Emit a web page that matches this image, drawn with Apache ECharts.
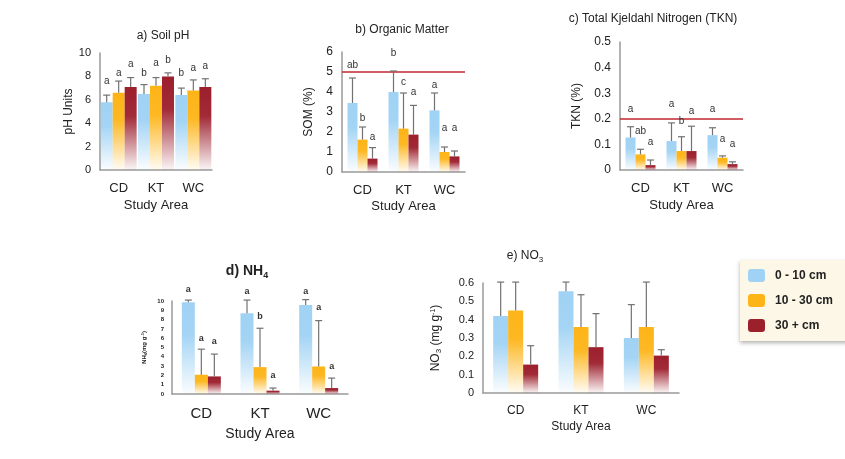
<!DOCTYPE html>
<html>
<head>
<meta charset="utf-8">
<script src="https://cdn.jsdelivr.net/npm/echarts@6/dist/echarts.min.js"></script>
<style>
  html, body { margin: 0; padding: 0; background: #fff; }
  #grafico { width: 845px; height: 459px; }
</style>
</head>
<body>
<div id="grafico"></div>
<script>
// ==============================================
// DATOS (filas = profundidad, columnas = CD, KT, WC)
// ==============================================

const areas = ['CD', 'KT', 'WC'];
const profundidades = ['0 - 10 cm', '10 - 30 cm', '30 + cm'];

// a) Soil pH
const phMedia  = [[5.8, 6.5, 6.4], [6.6, 7.2, 6.8], [7.1, 8.0, 7.1]];
const phError  = [[6.4, 7.3, 7.0], [7.6, 7.9, 7.7], [7.9, 8.3, 7.8]];
const phLetra  = [['a', 'b', 'b'], ['a', 'a', 'a'], ['a', 'b', 'a']];
const phLetraY = [[7.6, 8.3, 8.3], [8.3, 9.1, 8.7], [9.0, 9.4, 8.9]];

// b) Organic Matter
const somMedia  = [[3.45, 4.0, 3.08], [1.62, 2.17, 1.0], [0.67, 1.87, 0.78]];
const somError  = [[4.7, 5.05, 3.95], [2.25, 3.95, 1.25], [1.22, 3.33, 1.05]];
const somLetra  = [['ab', 'b', 'a'], ['b', 'c', 'a'], ['a', 'a', 'a']];
const somLetraY = [[5.33, 5.92, 4.33], [2.67, 4.5, 2.17], [1.72, 4.0, 2.17]];
const somLimite = 5;

// c) TKN
const tknMedia  = [[0.127, 0.113, 0.136], [0.061, 0.074, 0.048], [0.019, 0.074, 0.023]];
const tknError  = [[0.169, 0.184, 0.165], [0.081, 0.13, 0.055], [0.039, 0.171, 0.032]];
const tknLetra  = [['a', 'a', 'a'], ['ab', 'b', 'a'], ['a', 'a', 'a']];
const tknLetraY = [[0.236, 0.257, 0.236], [0.152, 0.19, 0.12], [0.108, 0.231, 0.101]];
const tknLimite = 0.2;

// d) NH4
const nh4Media  = [[9.86, 8.68, 9.57], [2.07, 2.89, 2.96], [1.89, 0.36, 0.64]];
const nh4Error  = [[10.1, 10.1, 10.15], [4.82, 7.07, 7.89], [4.29, 0.64, 1.71]];
const nh4Letra  = [['a', 'a', 'a'], ['a', 'b', 'a'], ['a', 'a', 'a']];
const nh4LetraY = [[11.25, 11.07, 11.0], [6.0, 8.3, 9.3], [5.64, 1.96, 2.96]];

// e) NO3
const no3Media = [[0.42, 0.555, 0.30], [0.45, 0.36, 0.36], [0.155, 0.25, 0.204]];
const no3Error = [[0.605, 0.605, 0.482], [0.605, 0.536, 0.605], [0.258, 0.433, 0.236]];

// ==============================================
// ESTILOS
// ==============================================

const fuente = 'Liberation Sans, Arial, sans-serif';
const colores = [[159, 210, 244], [253, 180, 23], [156, 31, 44]];
const rgb = (c, a) => `rgba(${c[0]},${c[1]},${c[2]},${a})`;
const degradado = c => ({
    type: 'linear', x: 0, y: 0, x2: 0, y2: 1,
    colorStops: [
        { offset: 0, color: rgb(c, 1) },
        { offset: 0.35, color: rgb(c, 0.95) },
        { offset: 1, color: rgb(c, 0.04) }
    ]
});
const subIndices = {
    s: { fontSize: 8, padding: [7, 0, 0, 0], fontFamily: fuente },
    p: { fontSize: 7, padding: [0, 0, 5, 0], fontFamily: fuente }
};

const paneles = [
    { titulo: 'a) Soil pH', tx: 158, ty: 25, grid: [100, 53, 112, 117], max: 10, paso: 2,
      nombreY: 'pH Units', gapY: 24, media: phMedia, error: phError, letra: phLetra, letraY: phLetraY,
      ancho: 12, fTick: 11, fCat: 13, gapX: 29 },
    { titulo: 'b) Organic Matter', tx: 397, ty: 19, grid: [342, 52, 123, 120], max: 6, paso: 1,
      nombreY: 'SOM (%)', gapY: 27, media: somMedia, error: somError, letra: somLetra, letraY: somLetraY,
      ancho: 10, fTick: 12, fCat: 13, gapX: 28, limite: somLimite },
    { titulo: 'c) Total Kjeldahl Nitrogen (TKN)', tx: 648, ty: 8, grid: [620, 42, 123, 128], max: 0.5, paso: 0.1,
      nombreY: 'TKN (%)', gapY: 37, media: tknMedia, error: tknError, letra: tknLetra, letraY: tknLetraY,
      ancho: 10, fTick: 12, fCat: 13, gapX: 29, limite: tknLimite },
    { titulo: 'd) NH{s|4}', tx: 242, ty: 258, grid: [172, 301, 176, 93], max: 10, paso: 1, negrita: true,
      nombreY: 'NH{s|4}(mg g{p|-1})', gapY: 24, media: nh4Media, error: nh4Error, letra: nh4Letra, letraY: nh4LetraY,
      ancho: 13, fTick: 6, fCat: 15, gapX: 33, fNombreY: 6 },
    { titulo: 'e) NO{s|3}', tx: 520, ty: 243, grid: [483, 283, 196, 110], max: 0.6, paso: 0.1,
      nombreY: 'NO{s|3} (mg g{p|-1})', gapY: 40, media: no3Media, error: no3Error,
      ancho: 15, fTick: 11, fCat: 12, gapX: 28, fNombreY: 12 }
];

// ==============================================
// CONSTRUCCIÓN DE LA OPCIÓN
// ==============================================

const titulos = [], grids = [], ejesX = [], ejesY = [], series = [];

paneles.forEach((p, i) => {
    titulos.push({
        text: p.titulo, left: p.tx, top: p.ty, textAlign: 'center',
        textStyle: { fontFamily: fuente, fontSize: p.negrita ? 14 : 12, fontWeight: p.negrita ? 'bold' : 'normal', color: '#222',
            rich: { s: { fontSize: p.negrita ? 9 : 8, fontWeight: p.negrita ? 'bold' : 'normal', padding: [8, 0, 0, 0], fontFamily: fuente } } }
    });
    grids.push({ left: p.grid[0], top: p.grid[1], width: p.grid[2], height: p.grid[3] });
    ejesX.push({
        type: 'category', gridIndex: i, data: areas,
        axisLine: { lineStyle: { color: '#999', width: 1.5 } }, axisTick: { show: false },
        axisLabel: { fontFamily: fuente, fontSize: p.fCat, color: '#222', margin: 12 },
        name: 'Study Area', nameLocation: 'middle', nameGap: p.gapX,
        nameTextStyle: { fontFamily: fuente, fontSize: p.fCat === 15 ? 14 : p.fCat, color: '#222' }
    });
    ejesY.push({
        type: 'value', gridIndex: i, min: 0, max: p.max, interval: p.paso,
        axisLine: { show: true, lineStyle: { color: '#999', width: 1.5 } }, axisTick: { show: false },
        splitLine: { show: false },
        axisLabel: { fontFamily: fuente, fontSize: p.fTick, color: '#222', margin: p.fTick < 8 ? 8 : 9,
            fontWeight: p.fTick < 8 ? 'bold' : 'normal' },
        name: p.nombreY, nameLocation: 'middle', nameRotate: 90, nameGap: p.gapY,
        nameTextStyle: { fontFamily: fuente, fontSize: p.fNombreY || 12, color: '#222',
            fontWeight: p.fNombreY === 6 ? 'bold' : 'normal',
            rich: p.fNombreY === 6
                ? { s: { fontSize: 4, padding: [4, 0, 0, 0], fontWeight: 'bold' }, p: { fontSize: 4, padding: [0, 0, 3, 0], fontWeight: 'bold' } }
                : subIndices }
    });

    profundidades.forEach((nombre, d) => {
        const s = {
            type: 'bar', name: nombre, xAxisIndex: i, yAxisIndex: i,
            data: p.media[d], barWidth: p.ancho, barGap: '0%',
            itemStyle: { color: degradado(colores[d]) }, silent: true
        };
        if (p.limite !== undefined && d === 0) {
            s.markLine = {
                silent: true, symbol: 'none', label: { show: false },
                lineStyle: { color: '#c1272d', width: 1.5, type: 'solid' },
                data: [{ yAxis: p.limite }]
            };
        }
        series.push(s);
    });

    // Barras de error y letras de significancia
    const datos = [];
    for (let d = 0; d < 3; d++) {
        for (let c = 0; c < 3; c++) {
            datos.push([c, d, p.media[d][c], p.error[d][c], p.letraY ? p.letraY[d][c] : 0]);
        }
    }
    series.push({
        type: 'custom', xAxisIndex: i, yAxisIndex: i, clip: false, silent: true, z: 6,
        data: datos,
        renderItem: (params, api) => {
            const c = api.value(0), d = api.value(1);
            const x = api.coord([c, 0])[0] + (d - 1) * p.ancho;
            const y0 = api.coord([c, api.value(2)])[1];
            const y1 = api.coord([c, api.value(3)])[1];
            const hijos = [
                { type: 'line', shape: { x1: x, y1: y0, x2: x, y2: y1 }, style: { stroke: '#727272', lineWidth: 1.2 } },
                { type: 'line', shape: { x1: x - 3.5, y1: y1, x2: x + 3.5, y2: y1 }, style: { stroke: '#727272', lineWidth: 1.2 } }
            ];
            if (p.letra) {
                hijos.push({
                    type: 'text', x: x, y: api.coord([c, api.value(4)])[1],
                    style: { text: p.letra[d][c], fontFamily: fuente, fontSize: p.negrita ? 9 : 10,
                        fontWeight: p.negrita ? 'bold' : 'normal', fill: '#333', align: 'center', verticalAlign: 'middle' }
                });
            }
            return { type: 'group', children: hijos };
        }
    });
});

const chart = echarts.init(document.getElementById('grafico'));
chart.setOption({
    animation: false,
    backgroundColor: '#fff',
    title: titulos,
    grid: grids,
    xAxis: ejesX,
    yAxis: ejesY,
    legend: {
        orient: 'vertical', left: 740, top: 260,
        data: profundidades.map((n, d) => ({ name: n, itemStyle: { color: rgb(colores[d], 1) } })),
        itemWidth: 17, itemHeight: 13, itemGap: 12,
        padding: [9, 18, 9, 8],
        backgroundColor: '#fcf7e7',
        shadowColor: 'rgba(0,0,0,0.3)', shadowBlur: 4, shadowOffsetY: 2,
        textStyle: { fontFamily: fuente, fontSize: 12, fontWeight: 'bold', color: '#222', padding: [0, 0, 0, 5] },
        selectedMode: false
    },
    series: series
});
</script>
</body>
</html>
